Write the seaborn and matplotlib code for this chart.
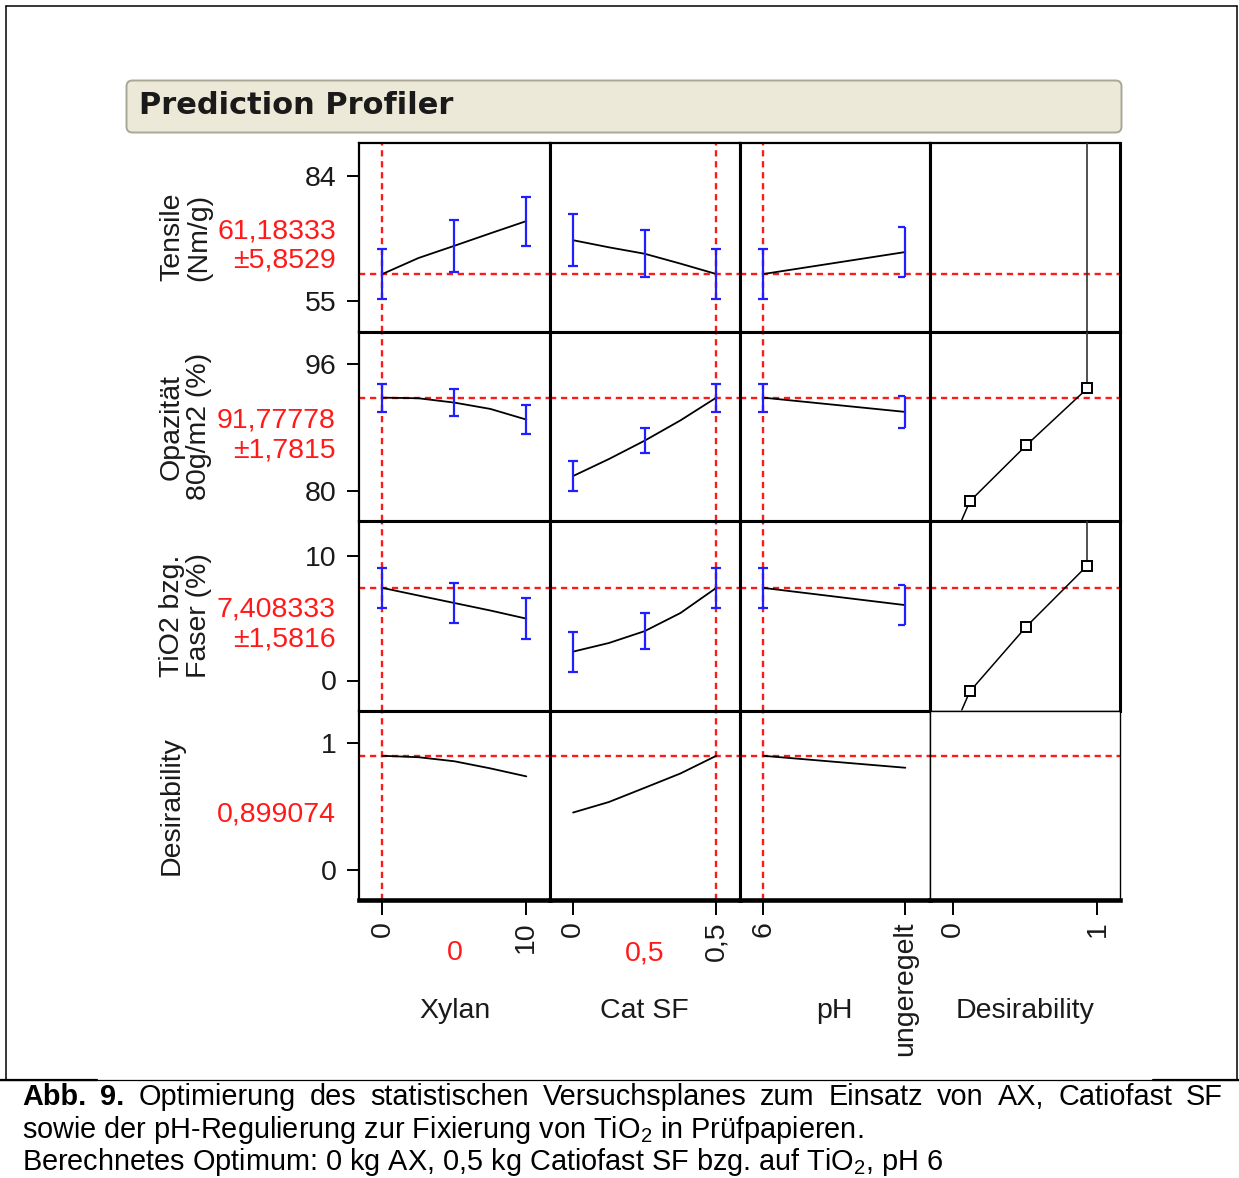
import numpy as np
import matplotlib
matplotlib.use("Agg")
import matplotlib.pyplot as plt
import seaborn as sns
from matplotlib.patches import FancyBboxPatch
from matplotlib.lines import Line2D
from matplotlib.path import Path

sns.set_theme(style="white")
plt.rcParams["font.family"] = ["Liberation Sans", "DejaVu Sans"]
plt.rcParams["mathtext.fontset"] = "custom"
plt.rcParams["mathtext.rm"] = "Liberation Sans"
plt.rcParams["mathtext.it"] = "Liberation Sans:italic"
plt.rcParams["mathtext.bf"] = "Liberation Sans:bold"
plt.rcParams["lines.scale_dashes"] = False

# ---------------------------------------------------------------- factors
factor_names = ["Xylan", "Cat SF", "pH", "Desirability"]
factor_current = [0, 0.5, 0]              # pH: index of level "6"
xylan_ticks = [0, 10]
catsf_ticks = [0, 0.5]
ph_levels = ["6", "ungeregelt"]
desir_ticks = [0, 1]

xylan_x = [0, 2.5, 5, 7.5, 10]
catsf_x = [0, 0.125, 0.25, 0.375, 0.5]
ph_x = [0, 1]
xylan_bar_x = [0, 5, 10]
catsf_bar_x = [0, 0.25, 0.5]
ph_bar_x = [0, 1]

# -------------------------------------------------------------- responses
response_lines = [["Tensile", "(Nm/g)"], ["Opazität", "80g/m2 (%)"],
                  ["TiO2 bzg.", "Faser (%)"], ["Desirability"]]
response_current = [61.18333, 91.77778, 7.408333, 0.899074]
response_ci = [5.8529, 1.7815, 1.5816, None]
response_yticks = [[55, 84], [80, 96], [0, 10], [0, 1]]
response_ylim = [(47.72, 91.79), (76.12, 100.11), (-2.41, 12.74), (-0.237, 1.255)]

# prediction traces
tensile_xylan = [61.18333, 64.9, 67.75, 70.65, 73.5]
tensile_catsf = [69.05, 67.4, 65.9, 63.6, 61.18333]
tensile_ph = [61.18333, 66.3]
opaz_xylan = [91.77778, 91.7, 91.15, 90.35, 89.0]
opaz_catsf = [81.85, 84.0, 86.33, 88.9, 91.77778]
opaz_ph = [91.77778, 89.97]
tio2_xylan = [7.408333, 6.8, 6.2, 5.6, 4.95]
tio2_catsf = [2.31, 3.0, 3.95, 5.4, 7.408333]
tio2_ph = [7.408333, 6.03]
desir_xylan = [0.899074, 0.888, 0.856, 0.80, 0.737]
desir_catsf = [0.452, 0.535, 0.647, 0.76, 0.899074]
desir_ph = [0.899074, 0.805]

# confidence half-widths at the design points
tensile_xylan_ci = [5.8529, 6.05, 5.7]
tensile_catsf_ci = [6.0, 5.45, 5.8529]
tensile_ph_ci = [5.8529, 5.75]
opaz_xylan_ci = [1.7815, 1.74, 1.87]
opaz_catsf_ci = [1.87, 1.6, 1.7815]
opaz_ph_ci = [1.7815, 2.0]
tio2_xylan_ci = [1.5816, 1.6, 1.62]
tio2_catsf_ci = [1.59, 1.43, 1.5816]
tio2_ph_ci = [1.5816, 1.62]

# desirability functions (tail point + three handles)
desir_fn_d = [0.062, 0.1175, 0.507, 0.93]
opaz_fn = [76.3, 78.65, 85.73, 92.95]
tio2_fn = [-2.35, -0.875, 4.3, 9.2]
tensile_fn_d = 0.93

factor_x = [xylan_x, catsf_x, ph_x]
factor_bar_x = [xylan_bar_x, catsf_bar_x, ph_bar_x]
traces = [[tensile_xylan, tensile_catsf, tensile_ph],
          [opaz_xylan, opaz_catsf, opaz_ph],
          [tio2_xylan, tio2_catsf, tio2_ph],
          [desir_xylan, desir_catsf, desir_ph]]
intervals = [[tensile_xylan_ci, tensile_catsf_ci, tensile_ph_ci],
             [opaz_xylan_ci, opaz_catsf_ci, opaz_ph_ci],
             [tio2_xylan_ci, tio2_catsf_ci, tio2_ph_ci],
             None]
desir_functions = [None, opaz_fn, tio2_fn]
xlims = [(-1.59, 11.62), (-0.082, 0.582), (-0.166, 1.173), (-0.159, 1.156)]


def de(v):
    return f"{v:g}".replace(".", ",")


W, H = 1239, 1178
fig = plt.figure(figsize=(W / 100, H / 100), dpi=100)
fig.patch.set_facecolor("white")
inch = fig.dpi_scale_trans


def px(x, y):
    return x / 100, (H - y) / 100


gs = fig.add_gridspec(4, 4, left=359.5 / W, right=1120 / W,
                      top=1 - 142.5 / H, bottom=1 - 900 / H,
                      wspace=0, hspace=0)
axes = np.array([[fig.add_subplot(gs[i, j]) for j in range(4)] for i in range(4)])

RED = "#ff1a1a"
BLUE = "#1f1fff"
TXT = "#1a1a1a"
dash = (0, (4.5, 3.4))
half_cap = Path([(-1, 0), (0, 0)], [Path.MOVETO, Path.LINETO])

for i in range(4):
    for j in range(4):
        ax = axes[i, j]
        ax.set_facecolor("white")
        ax.set_ylim(*response_ylim[i])
        ax.set_xlim(*xlims[j])
        ax.axhline(response_current[i], color=RED, lw=1.7, ls=dash, zorder=1)
        if j < 3:
            ax.axvline(factor_current[j], color=RED, lw=1.7, ls=dash, zorder=1)
            cx, cy = factor_x[j], traces[i][j]
            sns.lineplot(x=cx, y=cy, ax=ax, color="black", lw=1.3,
                         estimator=None, sort=False, legend=False, zorder=3)
            if intervals[i] is not None:
                lookup = dict(zip(cx, cy))
                bx = factor_bar_x[j]
                by = [lookup[v] for v in bx]
                ci = intervals[i][j]
                if j < 2:
                    ax.errorbar(bx, by, yerr=ci, fmt="none", ecolor=BLUE,
                                elinewidth=1.6, capsize=3.6, capthick=1.6, zorder=4)
                else:
                    ax.errorbar(bx[:1], by[:1], yerr=ci[:1], fmt="none", ecolor=BLUE,
                                elinewidth=1.6, capsize=3.6, capthick=1.6, zorder=4)
                    ax.vlines(bx[1:], np.array(by[1:]) - ci[1], np.array(by[1:]) + ci[1],
                              color=BLUE, lw=1.6, zorder=4)
                    ax.plot([bx[1], bx[1]], [by[1] - ci[1], by[1] + ci[1]], ls="none",
                            marker=half_cap, ms=10, mec=BLUE, mew=1.6, zorder=4)
        elif i < 3:
            fn = desir_functions[i]
            if fn is None:
                ax.axvline(tensile_fn_d, color="#333333", lw=1.2, zorder=3)
            else:
                sns.lineplot(x=desir_fn_d, y=fn, ax=ax, color="black", lw=1.1,
                             estimator=None, sort=False, legend=False, zorder=3)
                ax.vlines(desir_fn_d[-1], fn[-1], response_ylim[i][1],
                          color="#333333", lw=1.2, zorder=3)
                ax.plot(desir_fn_d[1:], fn[1:], ls="none", marker="s", ms=7,
                        mfc="white", mec="black", mew=1.4, zorder=5)

        ax.set_xlabel("")
        ax.set_ylabel("")
        ax.tick_params(left=False, bottom=False, labelleft=False, labelbottom=False)
        for s in ax.spines.values():
            s.set_visible(True)
            s.set_color("black")
            s.set_linewidth(2.2)
        if i == 0:
            ax.spines["top"].set_linewidth(1.6)
        if j == 0:
            ax.spines["left"].set_linewidth(1.6)
        if i == 3:
            ax.spines["bottom"].set_linewidth(3.3)

# thin frame around the empty desirability corner
axes[3, 3].spines["left"].set_linewidth(1.0)
axes[3, 3].spines["top"].set_linewidth(1.0)
axes[3, 3].spines["right"].set_linewidth(1.0)
axes[3, 2].spines["right"].set_linewidth(1.0)
axes[2, 3].spines["bottom"].set_linewidth(1.0)

# y axes of the first column
for i in range(4):
    ax = axes[i, 0]
    ax.set_yticks(response_yticks[i])
    ax.set_yticklabels([de(v) for v in response_yticks[i]])
    ax.tick_params(axis="y", left=True, labelleft=True, length=8.4, width=1.4,
                   pad=8, labelsize=20.5, labelcolor=TXT, color="black", direction="out")

# x axes of the bottom row
x_ticks = [xylan_ticks, catsf_ticks, ph_x, desir_ticks]
x_labels = [[de(v) for v in xylan_ticks], [de(v) for v in catsf_ticks],
            ph_levels, [de(v) for v in desir_ticks]]
for j in range(4):
    ax = axes[3, j]
    ax.set_xticks(x_ticks[j])
    ax.set_xticklabels(x_labels[j])
    ax.tick_params(axis="x", bottom=True, labelbottom=True, length=10.5, width=1.4,
                   pad=5, labelsize=20.5, labelcolor=TXT, color="black",
                   direction="out", labelrotation=90)
    ax.annotate(factor_names[j], xy=(0.5, H - 1018), xycoords=("axes fraction", "figure pixels"),
                ha="center", va="baseline", fontsize=20.5, color=TXT)
    if j < 2:
        ax.annotate(de(factor_current[j]), xy=(0.5, H - 960),
                    xycoords=("axes fraction", "figure pixels"),
                    ha="center", va="baseline", fontsize=20.5, color=RED)

# response labels and current predictions
for i in range(4):
    ax = axes[i, 0]
    lines = response_lines[i]
    base_x = [179, 206]
    for k, line in enumerate(lines):
        ax.annotate(line, xy=(base_x[k], 0.5), xycoords=("figure pixels", "axes fraction"),
                    rotation=90, rotation_mode="anchor", ha="center", va="baseline",
                    fontsize=20.5, color=TXT)
    value_txt = f"{response_current[i]:.7g}".replace(".", ",")
    if response_ci[i] is not None:
        ci_txt = "±" + f"{response_ci[i]:.5g}".replace(".", ",")
        ax.annotate(value_txt, xy=(336, 0.5), xycoords=("figure pixels", "axes fraction"),
                    xytext=(0, -1 * 0.72), textcoords="offset points",
                    ha="right", va="baseline", fontsize=20.5, color=RED)
        ax.annotate(ci_txt, xy=(336, 0.5), xycoords=("figure pixels", "axes fraction"),
                    xytext=(0, -30.5 * 0.72), textcoords="offset points",
                    ha="right", va="baseline", fontsize=20.5, color=RED)
    else:
        ax.annotate(value_txt, xy=(336, 0.5), xycoords=("figure pixels", "axes fraction"),
                    xytext=(0, -16.5 * 0.72), textcoords="offset points",
                    ha="right", va="baseline", fontsize=20.5, color=RED)

# title bar
bar = FancyBboxPatch(px(126.5, 132.5), 995 / 100, 52 / 100,
                     boxstyle="round,pad=0,rounding_size=0.06",
                     transform=inch, facecolor="#ece9d8", edgecolor="#a9a796",
                     linewidth=1.4, zorder=0)
fig.patches.append(bar)
fig.text(*px(139, 106), "Prediction Profiler", transform=inch, ha="left", va="center",
         fontsize=22, fontweight="bold", family="DejaVu Sans", color=TXT)

# page frame
frame = [((5.5, 5.5), (1236.5, 5.5), 1.1), ((5.5, 5.5), (5.5, 1080), 1.1),
         ((1236.5, 5.5), (1236.5, 1080), 1.1), ((0, 1080), (1239, 1080), 0.9),
         ((0, 1080), (97, 1080), 1.6), ((1153, 1080), (1239, 1080), 1.6)]
for (x0, y0), (x1, y1), lw in frame:
    p0, p1 = px(x0, y0), px(x1, y1)
    fig.add_artist(Line2D([p0[0], p1[0]], [p0[1], p1[1]], transform=inch,
                          color="black", lw=lw))

# caption (first line justified)
cap_size = 20.8
cap1_words = [("Abb.", True), ("9.", True), ("Optimierung", False), ("des", False),
              ("statistischen", False), ("Versuchsplanes", False), ("zum", False),
              ("Einsatz", False), ("von", False), ("AX,", False), ("Catiofast", False),
              ("SF", False)]
renderer = fig.canvas.get_renderer()
words = [fig.text(0, 0, w, transform=inch, fontsize=cap_size, va="baseline", ha="left",
                  fontweight="bold" if b else "normal", color="black")
         for w, b in cap1_words]
widths = [t.get_window_extent(renderer).width for t in words]
gap = (1223 - 22 - sum(widths)) / (len(words) - 1)
xpos = 22
for t, w in zip(words, widths):
    t.set_position(px(xpos, 1105))
    xpos += w + gap
fig.text(*px(22, 1138), "sowie der pH-Regulierung zur Fixierung von TiO$_2$ in Prüfpapieren.",
         transform=inch, fontsize=cap_size, va="baseline", ha="left", color="black")
fig.text(*px(22, 1170),
         "Berechnetes Optimum: 0 kg AX, 0,5 kg Catiofast SF bzg. auf TiO$_2$, pH 6",
         transform=inch, fontsize=cap_size, va="baseline", ha="left", color="black")

fig.savefig("out.png", dpi=100, facecolor="white")
